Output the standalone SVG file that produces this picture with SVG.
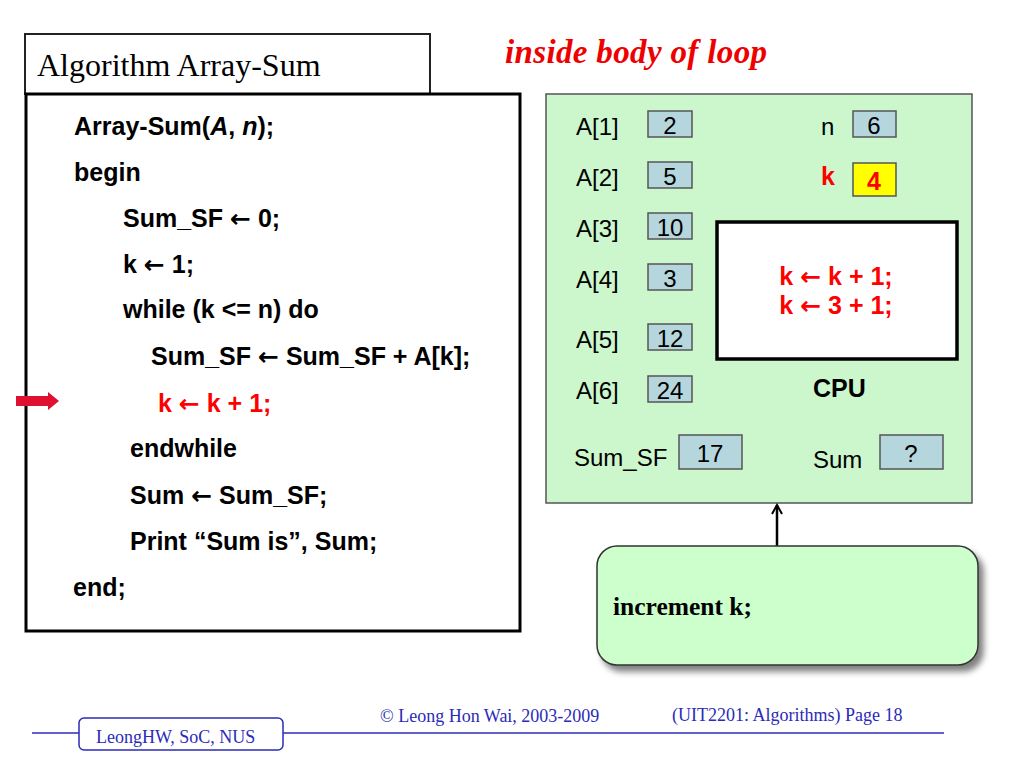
<svg xmlns="http://www.w3.org/2000/svg" width="1024" height="768" viewBox="0 0 1024 768">
<style>
.code{font-family:"Liberation Sans",Arial,sans-serif;font-weight:bold;font-size:25px;fill:#000}
.red{fill:#ff0000}
.ar{font-family:"DejaVu Sans",sans-serif;font-weight:bold;font-size:25px}
.lbl{font-family:"Liberation Sans",Arial,sans-serif;font-size:24px;fill:#000}
.val{font-family:"Liberation Sans",Arial,sans-serif;font-size:24px;fill:#000;text-anchor:middle}
.reg{fill:#b6d6de;stroke:#555;stroke-width:1.5}
.foot{font-family:"Liberation Serif","Times New Roman",serif;font-size:18px;fill:#2b2bb8}
</style>
<defs>
<marker id="open" viewBox="0 0 12 12" refX="10" refY="6" markerWidth="12" markerHeight="12" markerUnits="userSpaceOnUse" orient="auto">
<path d="M1,1 L10,6 L1,11" fill="none" stroke="#000" stroke-width="2"/>
</marker>
<filter id="shadow" x="-10%" y="-10%" width="130%" height="140%">
<feGaussianBlur in="SourceAlpha" stdDeviation="3"/>
<feOffset dx="5" dy="6" result="o"/>
<feComponentTransfer><feFuncA type="linear" slope="0.5"/></feComponentTransfer>
<feMerge><feMergeNode/><feMergeNode in="SourceGraphic"/></feMerge>
</filter>
</defs>
<rect width="1024" height="768" fill="#fff"/>

<g id="title-box">
<rect x="25" y="34" width="405" height="60" fill="#fff" stroke="#222" stroke-width="2"/>
<text x="37" y="76" font-family="'Liberation Serif','Times New Roman',serif" font-size="32" fill="#000">Algorithm Array-Sum</text>
</g>

<g id="heading">
<text x="505" y="63" font-family="'Liberation Serif','Times New Roman',serif" font-size="33" font-weight="bold" font-style="italic" fill="#ee0000" textLength="262">inside body of loop</text>
</g>

<g id="code-box">
<rect x="26" y="94" width="494" height="537" fill="#fff" stroke="#000" stroke-width="3"/>
<text class="code" x="74" y="135">Array-Sum(<tspan font-style="italic">A</tspan>, <tspan font-style="italic">n</tspan>);</text>
<text class="code" x="74" y="181">begin</text>
<text class="code" x="123" y="227">Sum_SF <tspan class="ar">←</tspan> 0;</text>
<text class="code" x="123" y="273">k <tspan class="ar">←</tspan> 1;</text>
<text class="code" x="123" y="318">while (k &lt;= n) do</text>
<text class="code" x="151" y="365">Sum_SF <tspan class="ar">←</tspan> Sum_SF + A[k];</text>
<text class="code red" x="158" y="412">k <tspan class="ar">←</tspan> k + 1;</text>
<text class="code" x="130" y="457">endwhile</text>
<text class="code" x="130" y="504">Sum <tspan class="ar">←</tspan> Sum_SF;</text>
<text class="code" x="130" y="550">Print “Sum is”, Sum;</text>
<text class="code" x="73" y="596">end;</text>
</g>

<g id="pointer">
<path d="M16,396 L48,396 L48,392 L59,401 L48,410 L48,406 L16,406 Z" fill="#e01030"/>
</g>

<g id="cpu">
<rect x="546" y="94" width="426" height="409" fill="#ccf7cc" stroke="#555" stroke-width="1.5"/>
<text class="lbl" x="576" y="135">A[1]</text>
<rect class="reg" x="648" y="111" width="44" height="26"/>
<text class="val" x="670" y="134">2</text>
<text class="lbl" x="576" y="186">A[2]</text>
<rect class="reg" x="648" y="162" width="44" height="26"/>
<text class="val" x="670" y="185">5</text>
<text class="lbl" x="576" y="237">A[3]</text>
<rect class="reg" x="648" y="213" width="44" height="26"/>
<text class="val" x="670" y="236">10</text>
<text class="lbl" x="576" y="288">A[4]</text>
<rect class="reg" x="648" y="264" width="44" height="26"/>
<text class="val" x="670" y="287">3</text>
<text class="lbl" x="576" y="348">A[5]</text>
<rect class="reg" x="648" y="324" width="44" height="26"/>
<text class="val" x="670" y="347">12</text>
<text class="lbl" x="576" y="399">A[6]</text>
<rect class="reg" x="648" y="376" width="44" height="26"/>
<text class="val" x="670" y="399">24</text>

<text class="lbl" x="821" y="135">n</text>
<rect class="reg" x="853" y="111" width="43" height="26"/>
<text class="val" x="874" y="134">6</text>

<text class="code red" x="821" y="185" font-size="24">k</text>
<rect x="853" y="163" width="43" height="33" fill="#ffff00" stroke="#555" stroke-width="1.5"/>
<text class="code red" x="874" y="190" text-anchor="middle" font-size="24">4</text>

<rect x="717" y="222" width="240" height="137" fill="#fff" stroke="#000" stroke-width="3.5"/>
<text class="code red" x="836" y="285" text-anchor="middle">k <tspan class="ar">←</tspan> k + 1;</text>
<text class="code red" x="836" y="314" text-anchor="middle">k <tspan class="ar">←</tspan> 3 + 1;</text>

<text class="code" x="813" y="397" font-size="24">CPU</text>

<text class="lbl" x="574" y="466">Sum_SF</text>
<rect class="reg" x="679" y="435" width="63" height="34"/>
<text class="val" x="710" y="462">17</text>
<text class="lbl" x="813" y="468">Sum</text>
<rect class="reg" x="880" y="435" width="63" height="34"/>
<text class="val" x="911" y="462">?</text>
</g>

<g id="connectors">
<line x1="777" y1="546" x2="777" y2="505" stroke="#000" stroke-width="2.5" marker-end="url(#open)"/>
</g>

<g id="increment">
<rect x="597" y="546" width="381" height="119" rx="20" ry="20" fill="#ccffcc" stroke="#333" stroke-width="1.5" filter="url(#shadow)"/>
<text x="613" y="615" font-family="'Liberation Serif','Times New Roman',serif" font-size="25.5" font-weight="bold" fill="#000">increment k;</text>
</g>

<g id="footer">
<line x1="32" y1="733" x2="944" y2="733" stroke="#2b2bb8" stroke-width="1.5"/>
<rect x="79" y="718" width="204" height="32" rx="5" ry="5" fill="#fff" stroke="#2b2bb8" stroke-width="1.5"/>
<text class="foot" x="96" y="743">LeongHW, SoC, NUS</text>
<text class="foot" x="380" y="722">© Leong Hon Wai, 2003-2009</text>
<text class="foot" x="672" y="721">(UIT2201: Algorithms) Page 18</text>
</g>
</svg>
